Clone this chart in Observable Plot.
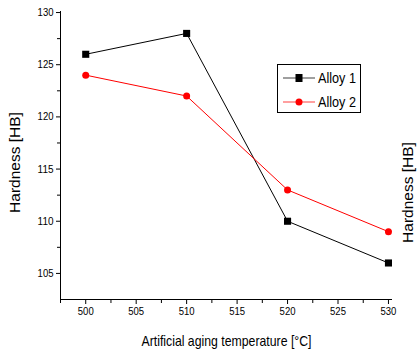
<!DOCTYPE html>
<html>
<head>
<meta charset="utf-8">
<script src="https://cdn.jsdelivr.net/npm/d3@7"></script>
<script src="https://cdn.jsdelivr.net/npm/@observablehq/plot@0.6"></script>
<style>
  html, body { margin: 0; padding: 0; background: #fff; }
  #wrap { position: relative; width: 419px; height: 358px; }
  #legend { position: absolute; left: 277px; top: 64px; }
</style>
</head>
<body>
<div id="wrap"></div>
<script>
const temps = [500, 510, 520, 530];
const alloy1 = [126, 128, 110, 106];
const alloy2 = [124, 122, 113, 109];
const seriesNames = ["Alloy 1", "Alloy 2"];
const seriesColors = ["#000000", "#ff0000"];
const xTicks = [500, 505, 510, 515, 520, 525, 530];
const xMinor = [497.5, 502.5, 507.5, 512.5, 517.5, 522.5, 527.5];
const yTicks = [105, 110, 115, 120, 125, 130];
const yMinor = [107.5, 112.5, 117.5, 122.5, 127.5];
const yLabel = "Hardness [HB]";
const xLabel = "Artificial aging temperature [°C]";

const d1 = temps.map((t, i) => ({t, v: alloy1[i]}));
const d2 = temps.map((t, i) => ({t, v: alloy2[i]}));

const font = '"Liberation Sans", Arial, sans-serif';

const plot = Plot.plot({
  width: 419,
  height: 358,
  marginLeft: 60,
  marginRight: 27,
  marginTop: 11,
  marginBottom: 59,
  style: {fontFamily: font, fontSize: "11px", color: "#000", background: "#fff", overflow: "visible"},
  x: {domain: [497.5, 530.4]},
  y: {domain: [102.5, 130.1]},
  marks: [
    Plot.ruleX([497.5], {stroke: "#000", strokeWidth: 1}),
    Plot.ruleY([102.5], {stroke: "#000", strokeWidth: 1}),
    Plot.axisY({ticks: yTicks, tickSize: 4, tickPadding: 3, tickFormat: d => String(d), label: null, fontSize: 11, className: "narrow"}),
    Plot.axisY({ticks: yMinor, tickSize: 3, tickFormat: () => "", label: null}),
    Plot.axisX({ticks: xTicks, tickSize: 5, tickPadding: 3, tickFormat: d => String(d), label: null, fontSize: 11, className: "narrow"}),
    Plot.axisX({ticks: xMinor, tickSize: 4, tickFormat: () => "", label: null}),
    Plot.line(d1, {x: "t", y: "v", stroke: seriesColors[0], strokeWidth: 1}),
    Plot.line(d2, {x: "t", y: "v", stroke: seriesColors[1], strokeWidth: 1}),
    Plot.dot(d1, {x: "t", y: "v", symbol: "square", r: 4, fill: seriesColors[0], stroke: "none"}),
    Plot.dot(d2, {x: "t", y: "v", symbol: "circle", r: 3.5, fill: seriesColors[1], stroke: "none"}),
    Plot.text([yLabel], {frameAnchor: "left", textAnchor: "middle", rotate: -90, dx: -45, dy: 7, fontSize: 15.5, fill: "#000"}),
    Plot.text([yLabel], {frameAnchor: "right", textAnchor: "middle", rotate: -90, dx: 16, dy: 37, fontSize: 15.5, fill: "#000"}),
    Plot.text([xLabel], {frameAnchor: "bottom", textAnchor: "middle", dy: 46, fontSize: 15, fill: "#000", className: "xlab"})
  ]
});

const wrap = document.getElementById("wrap");
wrap.appendChild(plot);

// condense the x-axis title like the narrow font of the reference
d3.select(plot).selectAll(".xlab text").attr("textLength", 170).attr("lengthAdjust", "spacingAndGlyphs");
// slightly condensed tick labels
d3.select(plot).selectAll(".narrow text").each(function() {
  const n = this.textContent.length;
  if (n) d3.select(this).attr("textLength", n * 5.3).attr("lengthAdjust", "spacingAndGlyphs");
});

// legend box
const lg = d3.select(wrap).append("svg").attr("id", "legend").attr("width", 85).attr("height", 50);
lg.append("rect").attr("x", 0.5).attr("y", 0.5).attr("width", 83).attr("height", 48)
  .attr("fill", "#fff").attr("stroke", "#000").attr("stroke-width", 1);
seriesNames.forEach((name, i) => {
  const cy = i === 0 ? 14 : 38;
  lg.append("line").attr("x1", 6).attr("x2", 38).attr("y1", cy).attr("y2", cy)
    .attr("stroke", seriesColors[i]).attr("stroke-width", 1).attr("opacity", 0.75);
  if (i === 0) {
    lg.append("rect").attr("x", 18.5).attr("y", cy - 4).attr("width", 7).attr("height", 8).attr("fill", seriesColors[i]);
  } else {
    lg.append("circle").attr("cx", 22).attr("cy", cy).attr("r", 3.5).attr("fill", seriesColors[i]);
  }
  lg.append("text").attr("x", 41).attr("y", cy).attr("dy", "0.36em")
    .attr("font-family", font).attr("font-size", 15).attr("fill", "#000")
    .attr("textLength", 38).attr("lengthAdjust", "spacingAndGlyphs")
    .text(name);
});
</script>
</body>
</html>
